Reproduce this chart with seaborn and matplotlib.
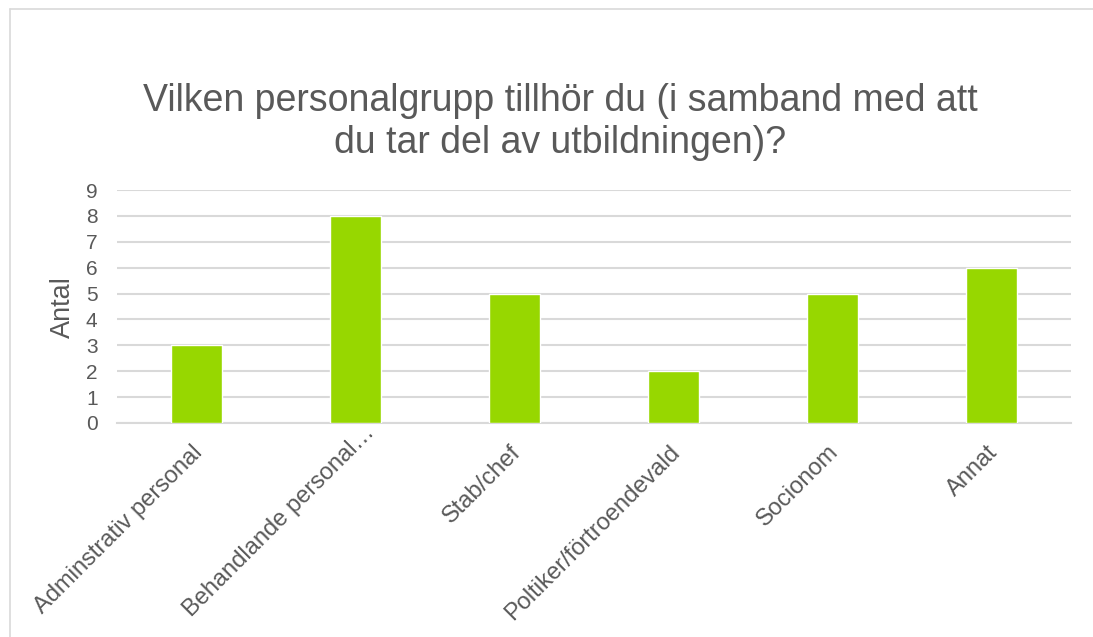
import matplotlib
matplotlib.use("Agg")
import matplotlib.pyplot as plt
import matplotlib.transforms as mtransforms
import seaborn as sns
import pandas as pd
from matplotlib.lines import Line2D

categories = ["Adminstrativ personal", "Behandlande personal…", "Stab/chef",
              "Poltiker/förtroendevald", "Socionom", "Annat"]
values = [3, 8, 5, 2, 5, 6]
yticks = list(range(0, 10))

title = "Vilken personalgrupp tillhör du (i samband med att\ndu tar del av utbildningen)?"
ylabel = "Antal"

sns.set_theme(style="white")
plt.rcParams['font.family'] = ['Liberation Sans', 'DejaVu Sans']

df = pd.DataFrame({"cat": categories, "val": values})

fig = plt.figure(figsize=(10.93, 6.37), dpi=100)
ax = fig.add_axes([117/1093, 1-423/637, (1071-117)/1093, (423-190)/637])

sns.barplot(data=df, x="cat", y="val", color="#97D700", width=0.315,
            saturation=1, ax=ax, zorder=3)

ax.set_ylim(0, 9)
ax.set_yticks(yticks)
ax.set_xlim(-0.5, len(categories) - 0.5)
ax.yaxis.grid(True, color="#D9D9D9", linewidth=1.5, zorder=0)
ax.xaxis.grid(False)
for s in ["top", "right", "left"]:
    ax.spines[s].set_visible(False)
ax.spines["bottom"].set_color("#D9D9D9")
ax.spines["bottom"].set_linewidth(1.5)
ax.tick_params(axis="y", length=0, colors="#595959", labelsize=15, pad=14)
ax.tick_params(axis="x", length=0, colors="#595959", labelsize=17, pad=13)
ax.set_xticks(range(len(categories)))
ax.set_xticklabels(categories, rotation=45, ha="right", va="top",
                   rotation_mode="anchor", color="#595959", fontsize=17)
for i, lbl in enumerate(ax.get_xticklabels()):
    dx, dy = (-5, 0)
    if lbl.get_text().endswith("…"):
        dx, dy = (8, 20)
    off = mtransforms.ScaledTranslation(dx/100, dy/100, fig.dpi_scale_trans)
    lbl.set_transform(lbl.get_transform() + off)
ax.set_xlabel("")
ax.set_ylabel(ylabel, fontsize=19.5, color="#595959", labelpad=7)
ax.yaxis.label.set_position((0, (423 - 307) / 233))

fig.text(560/1093, 1-122/637, title, ha="center", va="center",
         fontsize=27, color="#595959", linespacing=1.2)

# chart frame
fig.add_artist(Line2D([10/1093, 10/1093], [0, 1-8.5/637], transform=fig.transFigure,
                      color="#D9D9D9", linewidth=1.2))
fig.add_artist(Line2D([10/1093, 1], [1-8.5/637, 1-8.5/637], transform=fig.transFigure,
                      color="#D9D9D9", linewidth=1.2))

fig.savefig("out.png", dpi=100)
